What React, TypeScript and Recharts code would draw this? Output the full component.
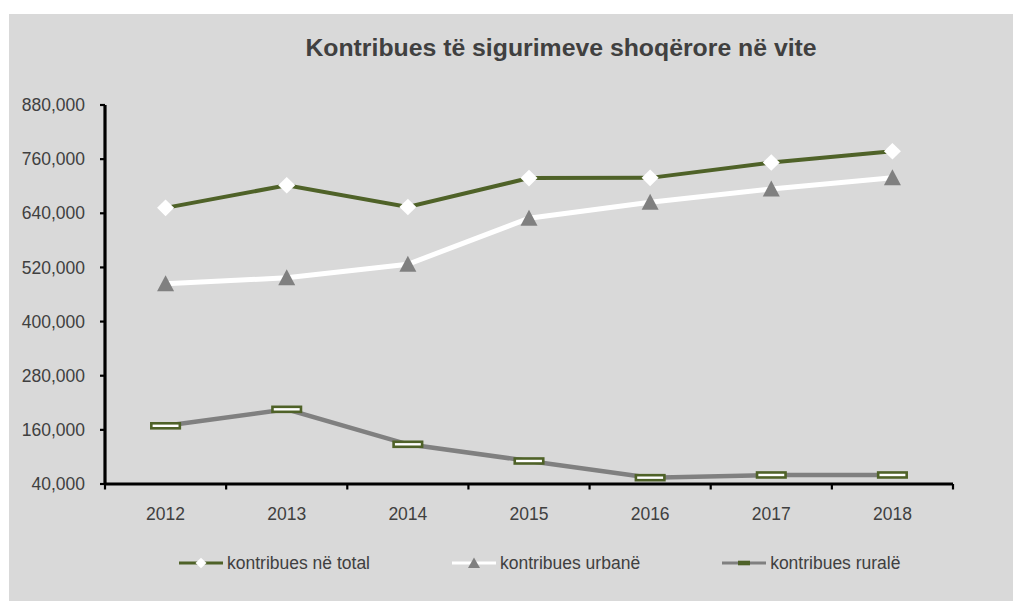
import React from 'react';
import { LineChart, Line, XAxis, YAxis, Legend } from 'recharts';

const years = ['2012', '2013', '2014', '2015', '2016', '2017', '2018'];
const totalValues = [652000, 702000, 654000, 718000, 718500, 752500, 777500];
const urbanValues = [484000, 497000, 527000, 629000, 664500, 694000, 719000];
const ruralValues = [169000, 205500, 128000, 91000, 54000, 60000, 60000];
const yTicks = [40000, 160000, 280000, 400000, 520000, 640000, 760000, 880000];
const seriesNames = ['kontribues në total', 'kontribues urbanë', 'kontribues ruralë'];
const titleText = 'Kontribues të sigurimeve shoqërore në vite';

const OLIVE = '#4F6228';
const GRAY = '#808080';
const TEXT = '#404040';
const FONT = '"Liberation Sans", Arial, sans-serif';

const data = years.map((y, i) => ({
  idx: i,
  year: y,
  total: totalValues[i],
  urban: urbanValues[i],
  rural: ruralValues[i],
}));

const xTicks: number[] = years.flatMap((_, i) => [i - 0.5, i]).concat([years.length - 0.5]);

const XTick = (props: any) => {
  const { x, y, payload } = props;
  const v = payload.value;
  if (Number.isInteger(v)) {
    return (
      <text x={x} y={y + 24} dy="0.71em" textAnchor="middle" fill={TEXT} stroke="none" fontSize={17.5} fontFamily={FONT}>
        {years[v]}
      </text>
    );
  }
  return <line x1={x} x2={x} y1={y} y2={y + 5.5} stroke="#000" strokeWidth={2.2} />;
};

const DiamondDot = (props: any) => {
  const { cx, cy, index } = props;
  if (cx == null || cy == null) return <g key={index} />;
  return (
    <polygon
      key={index}
      points={`${cx},${cy - 8.3} ${cx + 8.5},${cy} ${cx},${cy + 8.3} ${cx - 8.5},${cy}`}
      fill="#FFFFFF"
    />
  );
};

const TriangleDot = (props: any) => {
  const { cx, cy, index } = props;
  if (cx == null || cy == null) return <g key={index} />;
  return (
    <polygon
      key={index}
      points={`${cx},${cy - 8.5} ${cx + 8.5},${cy + 7.5} ${cx - 8.5},${cy + 7.5}`}
      fill={GRAY}
    />
  );
};

const DashDot = (props: any) => {
  const { cx, cy, index } = props;
  if (cx == null || cy == null) return <g key={index} />;
  return (
    <rect key={index} x={cx - 14.25} y={cy - 2.5} width={28.5} height={5} fill="#FFFFFF" stroke={OLIVE} strokeWidth={2.6} />
  );
};

const LegendContent = () => {
  const icons = [
    <svg width={44} height={20} key="i0">
      <line x1={0} x2={44} y1={10} y2={10} stroke={OLIVE} strokeWidth={2.8} />
      <polygon points="22,4.8 27.5,10 22,15.2 16.5,10" fill="#FFFFFF" />
    </svg>,
    <svg width={44} height={20} key="i1">
      <line x1={0} x2={44} y1={10} y2={10} stroke="#FFFFFF" strokeWidth={2.8} />
      <polygon points="22,4.5 28,15 16,15" fill={GRAY} />
    </svg>,
    <svg width={44} height={20} key="i2">
      <line x1={0} x2={44} y1={10} y2={10} stroke={GRAY} strokeWidth={2.8} />
      <rect x={16} y={7.7} width={12} height={4.6} fill={OLIVE} />
    </svg>,
  ];
  return (
    <div style={{ display: 'flex', alignItems: 'center', height: 20, whiteSpace: 'nowrap' }}>
      {seriesNames.map((name, i) => (
        <div key={name} style={{ display: 'flex', alignItems: 'center', marginRight: i < 2 ? 82 : 0 }}>
          {icons[i]}
          <span style={{ marginLeft: 4, fontSize: 17.5, lineHeight: '20px', color: TEXT, fontFamily: FONT }}>{name}</span>
        </div>
      ))}
    </div>
  );
};

export default function App() {
  return (
    <div
      style={{
        position: 'absolute',
        left: 9,
        top: 14,
        width: 1004,
        height: 587,
        background: '#D9D9D9',
        fontFamily: FONT,
        overflow: 'hidden',
      }}
    >
      <div
        style={{
          position: 'absolute',
          left: 552,
          top: 22.4,
          transform: 'translateX(-50%)',
          whiteSpace: 'nowrap',
          fontSize: 24.8,
          lineHeight: '24.8px',
          fontWeight: 'bold',
          color: TEXT,
          fontFamily: FONT,
        }}
      >
        {titleText}
      </div>
      <LineChart width={1004} height={587} data={data} margin={{ top: 91, right: 60, bottom: 87, left: 0 }}>
        <XAxis
          dataKey="idx"
          type="number"
          domain={[-0.5, years.length - 0.5]}
          ticks={xTicks}
          interval={0}
          tick={<XTick />}
          tickLine={false}
          tickSize={0}
          tickMargin={0}
          height={30}
          stroke="#000"
          strokeWidth={3.2}
          axisLine={{ stroke: '#000', strokeWidth: 3.2 }}
        />
        <YAxis
          type="number"
          domain={[40000, 880000]}
          ticks={yTicks}
          interval={0}
          width={96}
          tickSize={5}
          tickMargin={15}
          stroke="#000"
          strokeWidth={3.2}
          tickLine={{ stroke: '#000', strokeWidth: 2.2 }}
          axisLine={{ stroke: '#000', strokeWidth: 3.2 }}
          tick={{ fill: TEXT, stroke: 'none', strokeWidth: 0, fontSize: 17.5, fontFamily: FONT }}
          tickFormatter={(v: number) => v.toLocaleString('en-US')}
        />
        <Legend
          layout="horizontal"
          verticalAlign="middle"
          align="center"
          content={<LegendContent />}
          wrapperStyle={{ position: 'absolute', left: 170, top: 539.2, width: 'auto', height: 20 }}
        />
        <Line
          dataKey="total"
          name={seriesNames[0]}
          stroke={OLIVE}
          strokeWidth={4}
          dot={(p: any) => <DiamondDot {...p} key={p.index} />}
          activeDot={false}
          isAnimationActive={false}
        />
        <Line
          dataKey="urban"
          name={seriesNames[1]}
          stroke="#FFFFFF"
          strokeWidth={5}
          dot={(p: any) => <TriangleDot {...p} key={p.index} />}
          activeDot={false}
          isAnimationActive={false}
        />
        <Line
          dataKey="rural"
          name={seriesNames[2]}
          stroke={GRAY}
          strokeWidth={4.5}
          dot={(p: any) => <DashDot {...p} key={p.index} />}
          activeDot={false}
          isAnimationActive={false}
        />
      </LineChart>
    </div>
  );
}
